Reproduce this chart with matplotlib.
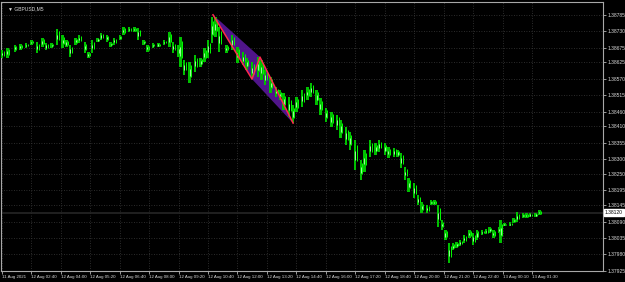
import matplotlib.pyplot as plt
import numpy as np

symbol = 'GBPUSD,M5'
last_price = 1.38120

time_labels = ['11 Aug 2021', '12 Aug 02:40', '12 Aug 04:00', '12 Aug 05:20',
               '12 Aug 06:40', '12 Aug 08:00', '12 Aug 09:20', '12 Aug 10:40',
               '12 Aug 12:00', '12 Aug 13:20', '12 Aug 14:40', '12 Aug 16:00',
               '12 Aug 17:20', '12 Aug 18:40', '12 Aug 20:00', '12 Aug 21:20',
               '12 Aug 22:40', '13 Aug 00:10', '13 Aug 01:30']
price_ticks = [1.38785, 1.38730, 1.38675, 1.38625, 1.38570, 1.38515,
               1.38460, 1.38410, 1.38355, 1.38300, 1.38250, 1.38195,
               1.38145, 1.38090, 1.38035, 1.37980, 1.37925]

# bar number (M5 bars from the left edge), high and low
bar_idx = [0, 3, 7, 10, 13, 16, 19, 22, 24, 27, 30, 33, 35, 37, 40, 42, 45,
           47, 49, 52, 54, 57, 59, 61, 64, 66, 69, 72, 74, 77, 79, 82, 85, 88,
           91, 93, 96, 97, 99, 102, 105, 108, 110, 112, 114, 116, 118, 122,
           125, 128, 131, 133, 136, 139, 141, 143, 146, 149, 151, 153, 156,
           158, 160, 163, 166, 168, 171, 173, 176, 179, 182, 184, 187, 189,
           192, 195, 197, 200, 203, 205, 208, 210, 213, 215, 217, 219, 221,
           224, 226, 228, 231, 233, 235, 237, 239, 241, 243, 245, 247, 249,
           251, 254, 256, 258, 261, 263, 265, 267, 270, 271, 273, 276, 278,
           280, 283, 285, 287, 290, 292]
bar_high = [1.38667, 1.38674, 1.38684, 1.38687, 1.38690, 1.38700, 1.38694,
            1.38707, 1.38690, 1.38690, 1.38737, 1.38717, 1.38700, 1.38684,
            1.38707, 1.38717, 1.38694, 1.38660, 1.38700, 1.38707, 1.38724,
            1.38717, 1.38694, 1.38707, 1.38717, 1.38744, 1.38744, 1.38744,
            1.38741, 1.38700, 1.38684, 1.38690, 1.38690, 1.38700, 1.38727,
            1.38694, 1.38684, 1.38711, 1.38633, 1.38627, 1.38650, 1.38640,
            1.38674, 1.38700, 1.38778, 1.38778, 1.38744, 1.38684, 1.38717,
            1.38677, 1.38660, 1.38640, 1.38627, 1.38643, 1.38633, 1.38600,
            1.38576, 1.38542, 1.38532, 1.38522, 1.38509, 1.38482, 1.38509,
            1.38532, 1.38542, 1.38556, 1.38532, 1.38505, 1.38472, 1.38458,
            1.38448, 1.38431, 1.38408, 1.38391, 1.38364, 1.38297, 1.38331,
            1.38364, 1.38354, 1.38364, 1.38354, 1.38341, 1.38337, 1.38331,
            1.38320, 1.38273, 1.38236, 1.38220, 1.38179, 1.38156, 1.38146,
            1.38162, 1.38162, 1.38146, 1.38095, 1.38062, 1.38018, 1.38018,
            1.38021, 1.38028, 1.38045, 1.38062, 1.38051, 1.38062, 1.38062,
            1.38065, 1.38072, 1.38062, 1.38072, 1.38095, 1.38085, 1.38088,
            1.38102, 1.38122, 1.38119, 1.38119, 1.38119, 1.38119, 1.38129]
bar_low = [1.38640, 1.38640, 1.38660, 1.38667, 1.38674, 1.38684, 1.38657,
           1.38677, 1.38667, 1.38674, 1.38684, 1.38674, 1.38677, 1.38643,
           1.38684, 1.38690, 1.38657, 1.38640, 1.38657, 1.38694, 1.38700,
           1.38694, 1.38677, 1.38684, 1.38700, 1.38717, 1.38727, 1.38727,
           1.38700, 1.38684, 1.38660, 1.38674, 1.38677, 1.38684, 1.38677,
           1.38657, 1.38643, 1.38610, 1.38583, 1.38556, 1.38593, 1.38610,
           1.38627, 1.38640, 1.38690, 1.38711, 1.38660, 1.38657, 1.38667,
           1.38623, 1.38616, 1.38600, 1.38569, 1.38576, 1.38566, 1.38549,
           1.38522, 1.38509, 1.38499, 1.38465, 1.38442, 1.38421, 1.38458,
           1.38475, 1.38499, 1.38509, 1.38482, 1.38448, 1.38425, 1.38408,
           1.38398, 1.38371, 1.38347, 1.38331, 1.38263, 1.38230, 1.38257,
           1.38307, 1.38314, 1.38324, 1.38314, 1.38304, 1.38307, 1.38307,
           1.38270, 1.38230, 1.38189, 1.38169, 1.38146, 1.38119, 1.38119,
           1.38146, 1.38146, 1.38072, 1.38062, 1.38028, 1.37951, 1.37994,
           1.38001, 1.38008, 1.38018, 1.38035, 1.38011, 1.38028, 1.38045,
           1.38048, 1.38051, 1.38035, 1.38051, 1.38018, 1.38075, 1.38075,
           1.38085, 1.38088, 1.38102, 1.38102, 1.38105, 1.38105, 1.38112]

# zigzag drawn on the chart: A, B, C, D
zigzag_idx = [114.7, 135.9, 140.2, 158.2]
zigzag_price = [1.38785, 1.38569, 1.38643, 1.38421]

fg = '#d8d8d8'
plt.rcParams['font.family'] = ['Liberation Sans', 'DejaVu Sans']

fig = plt.figure(figsize=(6.25, 2.82), dpi=100, facecolor='black')
ax = fig.add_axes([1 / 625, 1 - 271 / 282, 602 / 625, 269 / 282])
ax.set_facecolor('black')

ax.set_xlim(-0.5, 326.6)
ax.set_ylim(1.37924, 1.38828)

# current price line
ax.axhline(last_price, color='#262626', linewidth=1.2, zorder=1)

high = np.array(bar_high)
low = np.array(bar_low)
ax.bar(bar_idx, high - low, bottom=low, width=1.3, color='#00c000',
       linewidth=0, zorder=3)
ax.vlines(np.array(bar_idx) + 0.9, low + (high - low) * 0.3,
          high - (high - low) * 0.15, color='#00ff00', linewidth=0.7,
          zorder=4)
ax.vlines(np.array(bar_idx), low + (high - low) * 0.35,
          high - (high - low) * 0.35, color='#b8ffb8', linewidth=0.6,
          zorder=4)

# triangle pattern
order = [0, 2, 3, 1]
ax.fill([zigzag_idx[i] for i in order], [zigzag_price[i] for i in order],
        color='#5a189a', alpha=0.9, linewidth=0, zorder=2)
ax.plot(zigzag_idx, zigzag_price, color='#ff2a4a', linewidth=1.1, zorder=5)

ax.yaxis.tick_right()
ax.set_yticks(price_ticks)
ax.set_yticklabels(['%.5f' % p for p in price_ticks])
ax.set_xticks(np.arange(len(time_labels)) * 16)
ax.set_xticklabels(time_labels, ha='left')
ax.tick_params(axis='y', colors=fg, labelsize=3.6, length=2, width=0.5,
               pad=1.5)
ax.tick_params(axis='x', colors=fg, labelsize=3.2, length=2, width=0.5,
               pad=1)

ax.grid(True, color='#3a3a3a', linestyle=(0, (1, 2)), linewidth=0.6)
ax.set_axisbelow(True)
for side in ax.spines.values():
    side.set_color('#a8a8a8')
    side.set_linewidth(0.8)

ax.text(0.012, 0.985, '\u25bc ' + symbol, transform=ax.transAxes,
        color=fg, fontsize=3.6, va='top', ha='left')

ax.text(1.003, last_price, '%.5f' % last_price,
        transform=ax.get_yaxis_transform(), color='black', fontsize=3.6,
        va='center', ha='left',
        bbox=dict(boxstyle='square,pad=0.15', facecolor='white',
                  edgecolor='white'))

fig.savefig('out.png', dpi=100, facecolor='black')
